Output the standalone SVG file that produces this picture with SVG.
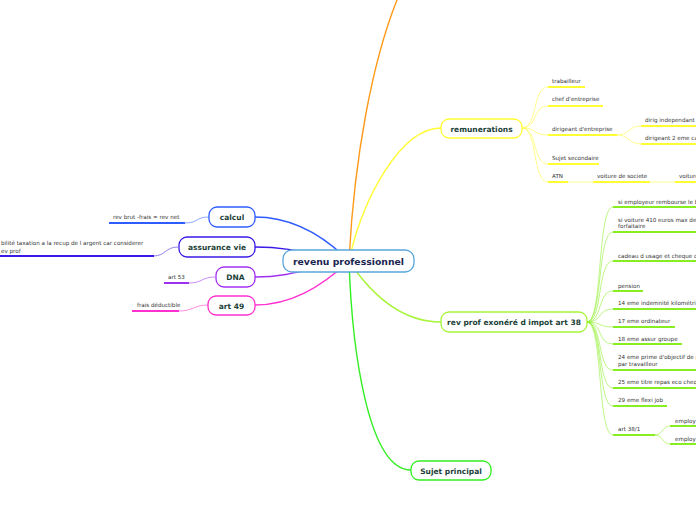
<svg xmlns="http://www.w3.org/2000/svg" width="696" height="520" viewBox="0 0 696 520">
<style>
.node{fill:#fff;stroke-width:1.3}
.nt{font-family:"DejaVu Sans",Verdana,sans-serif;font-weight:bold;font-size:7.5px;fill:#1b4238;text-anchor:middle}
.ct{font-family:"DejaVu Sans",Verdana,sans-serif;font-weight:bold;font-size:9.3px;fill:#1a2550;text-anchor:middle}
.lt{font-family:"DejaVu Sans",Verdana,sans-serif;font-size:5.6px;fill:#333}
.br{fill:none;stroke-width:1.4}
.lc{fill:none;stroke-width:1;opacity:0.55}
.ul{fill:none;stroke-width:2}
</style>
<g id="connectors">
<path class="br" stroke="#ff9a1a" d="M349,261 C354,160 372,60 399,-5"/>
<path class="br" stroke="#ffff33" d="M349,261 C362,200 400,128 441,128"/>
<path class="br" stroke="#a6f53a" d="M349,261 C375,300 405,322 441,322"/>
<path class="br" stroke="#33ee22" d="M349,261 C352,350 368,470 411,470"/>
<path class="br" stroke="#2f5cff" d="M349,261 C320,232 290,217 255,217"/>
<path class="br" stroke="#3a1ae6" d="M349,261 C310,254 290,247 255,247"/>
<path class="br" stroke="#a030f0" d="M349,261 C310,268 290,277 255,277"/>
<path class="br" stroke="#ff30d0" d="M349,261 C320,288 290,305 255,305"/>
<path class="lc" stroke="#2f5cff" d="M185,223 C198,223 196,217 209,217"/>
<path class="ul" stroke="#2f5cff" d="M109,223 H185"/>
<path class="lc" stroke="#3a1ae6" d="M153,256 C166,256 165,247 178,247"/>
<path class="ul" stroke="#3a1ae6" d="M0,256 H154"/>
<path class="lc" stroke="#a030f0" d="M189,283 C202,283 202,277 215,277"/>
<path class="ul" stroke="#a030f0" d="M164,283 H189"/>
<path class="lc" stroke="#ff30d0" d="M179,311 C193,311 194,305 208,305"/>
<path class="ul" stroke="#ff30d0" d="M132,311 H179"/>
<g stroke="#ffff33">
<path class="lc" d="M522,128 C538,128 532,87 548,87"/>
<path class="lc" d="M522,128 C538,128 532,106 548,106"/>
<path class="lc" d="M522,128 C538,128 532,135 548,135"/>
<path class="lc" d="M522,128 C538,128 532,164 548,164"/>
<path class="lc" d="M522,128 C538,128 532,182 548,182"/>
<path class="ul" d="M548,87 H585"/>
<path class="ul" d="M548,106 H603"/>
<path class="ul" d="M548,135 H617"/>
<path class="ul" d="M548,164 H599"/>
<path class="ul" d="M548,182 H568"/>
<path class="lc" d="M617,135 C630,135 628,126 641,126"/>
<path class="lc" d="M617,135 C630,135 628,144 641,144"/>
<path class="ul" d="M641,126 H700"/>
<path class="ul" d="M641,144 H700"/>
<path class="lc" d="M568,182 H593"/>
<path class="ul" d="M593,182 H650"/>
<path class="lc" d="M650,182 H675"/>
<path class="ul" d="M675,182 H700"/>
</g>
<g stroke="#88ee22">
<path class="lc" d="M587,322 C603,322 597,207 613,207"/>
<path class="lc" d="M587,322 C603,322 597,232 613,232"/>
<path class="lc" d="M587,322 C603,322 597,261 613,261"/>
<path class="lc" d="M587,322 C603,322 597,291 613,291"/>
<path class="lc" d="M587,322 C603,322 597,309 613,309"/>
<path class="lc" d="M587,322 C603,322 597,327 613,327"/>
<path class="lc" d="M587,322 C603,322 597,344 613,344"/>
<path class="lc" d="M587,322 C603,322 597,370 613,370"/>
<path class="lc" d="M587,322 C603,322 597,388 613,388"/>
<path class="lc" d="M587,322 C603,322 597,406 613,406"/>
<path class="lc" d="M587,322 C603,322 597,435 613,435"/>
<path class="ul" d="M613,207 H700"/>
<path class="ul" d="M613,232 H700"/>
<path class="ul" d="M613,261 H700"/>
<path class="ul" d="M613,291 H643"/>
<path class="ul" d="M613,309 H700"/>
<path class="ul" d="M613,327 H675"/>
<path class="ul" d="M613,344 H682"/>
<path class="ul" d="M613,370 H700"/>
<path class="ul" d="M613,388 H700"/>
<path class="ul" d="M613,406 H667"/>
<path class="ul" d="M613,435 H655"/>
<path class="lc" d="M655,435 C663,435 662,426 670,426"/>
<path class="lc" d="M655,435 C663,435 662,444 670,444"/>
<path class="ul" d="M670,426 H700"/>
<path class="ul" d="M670,444 H700"/>
</g>
</g>
<g id="center">
<rect class="node" x="283" y="250" width="131" height="22" rx="9" stroke="#5aa6dc"/>
<text class="ct" x="348.5" y="264.5">revenu professionnel</text>
</g>
<g id="calcul">
<rect class="node" x="209" y="207" width="46" height="20" rx="8" stroke="#2f5cff"/>
<text class="nt" x="232" y="220">calcul</text>
</g>
<g id="assurance-vie">
<rect class="node" x="179" y="237" width="76" height="20" rx="8" stroke="#3a1ae6"/>
<text class="nt" x="217" y="250">assurance vie</text>
</g>
<g id="dna">
<rect class="node" x="216" y="267" width="39" height="20" rx="8" stroke="#a030f0"/>
<text class="nt" x="235.5" y="280">DNA</text>
</g>
<g id="art49">
<rect class="node" x="208" y="296" width="47" height="19" rx="8" stroke="#ff30d0"/>
<text class="nt" x="231.5" y="308.5">art 49</text>
</g>
<g id="remunerations">
<rect class="node" x="441" y="119" width="81" height="19" rx="8" stroke="#ffff33"/>
<text class="nt" x="481.5" y="131.5">remunerations</text>
</g>
<g id="rev-prof-exonere">
<rect class="node" x="441" y="312" width="146" height="20" rx="8" stroke="#a6f53a"/>
<text class="nt" x="514" y="325">rev prof exonéré d impot art 38</text>
</g>
<g id="sujet-principal">
<rect class="node" x="411" y="461" width="80" height="19" rx="8" stroke="#33ee22"/>
<text class="nt" x="451" y="473.5">Sujet principal</text>
</g>
<g id="leaves">
<text class="lt" x="113" y="219">rev brut -frais = rev net</text>
<text class="lt" x="1" y="245">bilité taxation a la recup de l argent car considerer</text>
<text class="lt" x="1" y="252.5">ev prof</text>
<text class="lt" x="168" y="279">art 53</text>
<text class="lt" x="137" y="307">frais déductible</text>
<text class="lt" x="552" y="83">trabailleur</text>
<text class="lt" x="552" y="101">chef d'entreprise</text>
<text class="lt" x="552" y="131">dirigeant d'entreprise</text>
<text class="lt" x="552" y="160">Sujet secondaire</text>
<text class="lt" x="552" y="178">ATN</text>
<text class="lt" x="645" y="122">dirig independant :</text>
<text class="lt" x="645" y="140">dirigeant 2 eme ca</text>
<text class="lt" x="597" y="178">voiture de societe</text>
<text class="lt" x="679" y="178">voiture</text>
<text class="lt" x="618" y="204">si employeur rembourse le b</text>
<text class="lt" x="618" y="222">si voiture 410 euros max de</text>
<text class="lt" x="618" y="228">forfaitaire</text>
<text class="lt" x="618" y="258">cadeau d usage et cheque c</text>
<text class="lt" x="618" y="288">pension</text>
<text class="lt" x="618" y="305">14 eme  indemnité kilométri</text>
<text class="lt" x="618" y="323">17 eme ordinateur</text>
<text class="lt" x="618" y="341">18 eme assur groupe</text>
<text class="lt" x="618" y="359">24 eme prime d'objectif de p</text>
<text class="lt" x="618" y="366">par travailleur</text>
<text class="lt" x="618" y="384">25 eme titre repas eco cheq</text>
<text class="lt" x="618" y="402">29 eme flexi job</text>
<text class="lt" x="618" y="431">art 38/1</text>
<text class="lt" x="675" y="423">employ</text>
<text class="lt" x="675" y="441">employ</text>
</g>
</svg>
